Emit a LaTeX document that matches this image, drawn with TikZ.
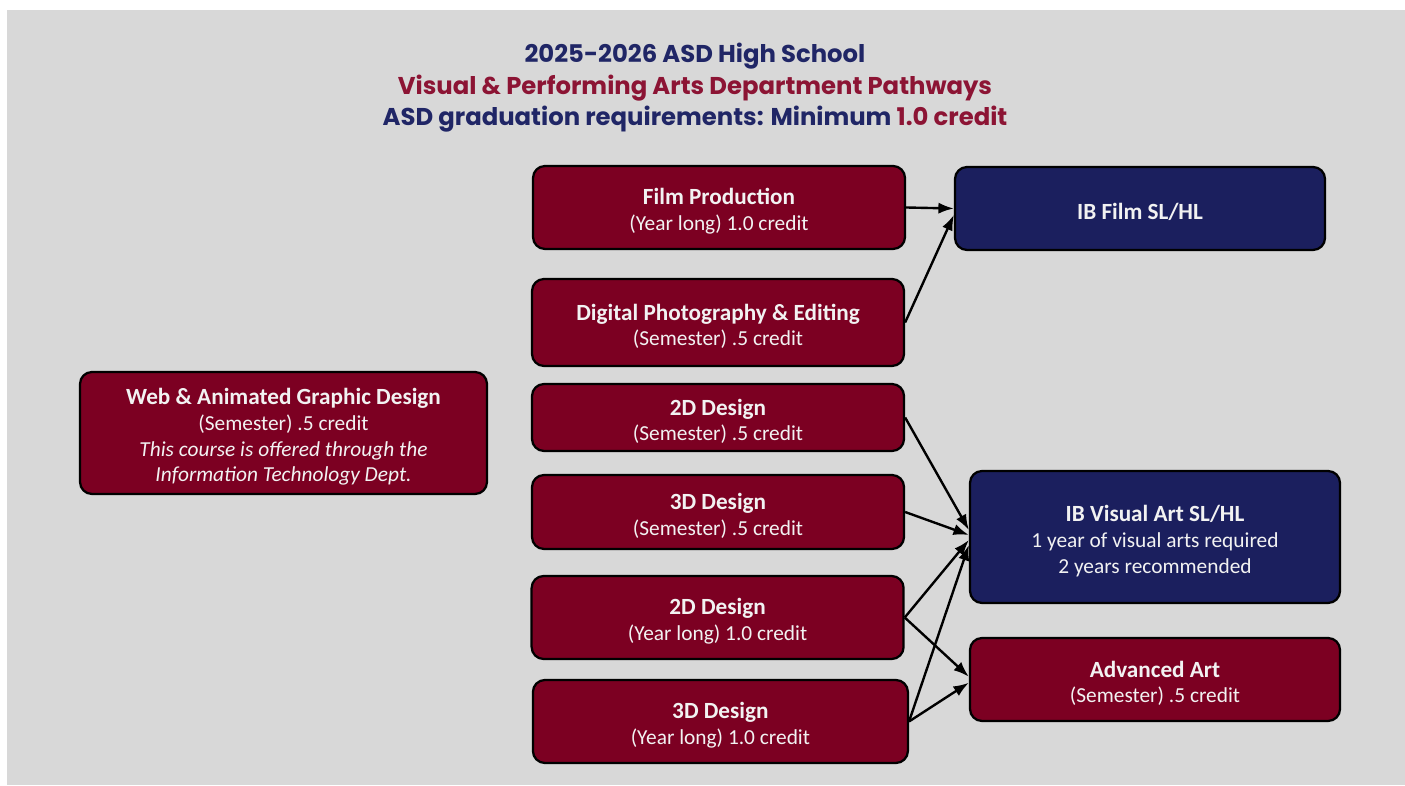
\documentclass[tikz,border=0pt]{standalone}
\usepackage{fontspec}
\setmainfont{Carlito}
\newfontfamily\titlefont{Poppins}
\usetikzlibrary{arrows.meta,positioning}
\definecolor{asdred}{RGB}{124,0,34}
\definecolor{asdnavy}{RGB}{27,31,94}
\definecolor{titlenavy}{RGB}{32,38,102}
\definecolor{titlered}{RGB}{140,20,52}
\definecolor{slide}{RGB}{216,216,216}
\newcommand{\cname}[1]{\rule{0pt}{17pt}{\fontsize{16.5}{18.4}\selectfont\bfseries #1}}

\begin{document}
\begin{tikzpicture}[>={Latex[length=11pt,width=8pt]},
  course/.style={draw=black, line width=1.6pt, rounded corners=0.3cm, fill=asdred,
    text=white!95!black, align=center, inner sep=0pt, minimum width=9.3cm,
    font=\fontsize{15.2}{18.4}\selectfont},
  ibcourse/.style={course, fill=asdnavy, minimum width=9.25cm},
  heading/.style={font=\titlefont\bfseries\fontsize{17.3}{19}\selectfont},
  link/.style={->, line width=1.7pt}]
 \useasboundingbox (0,0) rectangle (35.125,19.625);
 \fill[slide] (0.175,0) rectangle (35.125,19.375);

 % title
 \node[heading, text=titlenavy] (title1) at (17.375,18.225) {2025-2026 ASD High School};
 \node[heading, text=titlered] (title2) at (17.375,17.425) {Visual \& Performing Arts Department Pathways};
 \node[heading, text=titlenavy] (title3) at (17.375,16.65) {ASD graduation requirements: Minimum \textcolor{titlered}{1.0 credit}};

 % left column
 \node[course, minimum width=10.175cm, minimum height=3.05cm] (web) at (7.0875,8.8)
   {\cname{Web \& Animated Graphic Design}\\(Semester) .5 credit\\
    \textit{This course is offered through the}\\\textit{Information Technology Dept.}};

 % middle column
 \node[course, minimum height=2.075cm] (film) at (17.975,14.4375) {\cname{Film Production}\\(Year long) 1.0 credit};
 \node[course, minimum height=2.175cm] (photo) at (17.95,11.5625) {\cname{Digital Photography \& Editing}\\(Semester) .5 credit};
 \node[course, minimum height=1.675cm] (twodsem) at (17.95,9.1875) {\cname{2D Design}\\(Semester) .5 credit};
 \node[course, minimum height=1.85cm] (threedsem) at (17.95,6.825) {\cname{3D Design}\\(Semester) .5 credit};
 \node[course, minimum height=2.075cm] (twodyear) at (17.94,4.1875) {\cname{2D Design}\\(Year long) 1.0 credit};
 \node[course, minimum width=9.375cm, minimum height=2.075cm] (threedyear) at (18.01,1.5875) {\cname{3D Design}\\(Year long) 1.0 credit};

 % right column
 \node[ibcourse, minimum height=2.075cm] (ibfilm) at (28.5,14.4125) {\cname{IB Film SL/HL}};
 \node[ibcourse, minimum height=3.3cm] (ibart) at (28.875,6.2)
   {\cname{IB Visual Art SL/HL}\\1 year of visual arts required\\2 years recommended};
 \node[course, minimum width=9.25cm, minimum height=2.075cm] (advart) at (28.875,2.6375) {\cname{Advanced Art}\\(Semester) .5 credit};

 % pathways
 \draw[link] (film.east) -- (ibfilm.west);
 \draw[link] (photo.east) -- ([yshift=-0.16cm]ibfilm.west);
 \draw[link] (twodsem.east) -- ([yshift=0.175cm]ibart.west);
 \draw[link] (threedsem.east) -- ([yshift=0.05cm]ibart.west);
 \draw[link] (twodyear.east) -- ([yshift=-0.075cm]ibart.west);
 \draw[link] (threedyear.east) -- ([yshift=-0.2cm]ibart.west);
 \draw[link] (twodyear.east) -- ([yshift=0.07cm]advart.west);
 \draw[link] (threedyear.east) -- ([yshift=-0.08cm]advart.west);
\end{tikzpicture}
\end{document}
